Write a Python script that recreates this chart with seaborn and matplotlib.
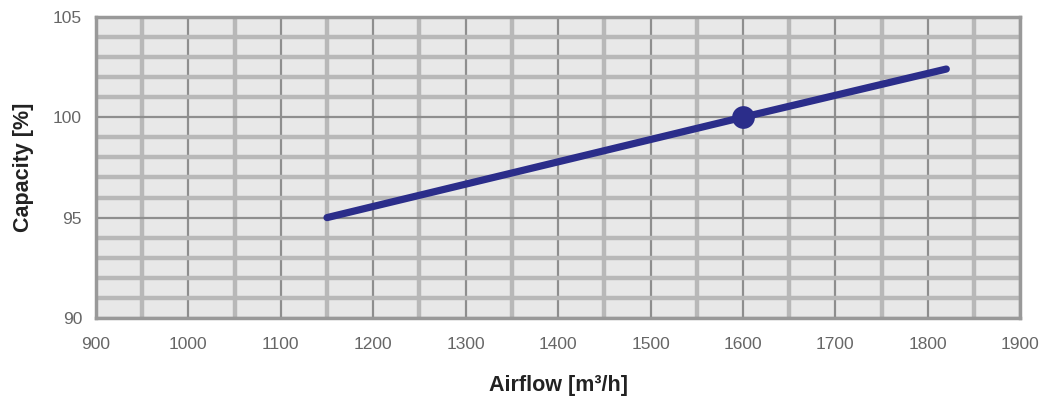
import matplotlib
matplotlib.use("Agg")
import matplotlib.pyplot as plt
import seaborn as sns
import pandas as pd
from matplotlib.ticker import MultipleLocator

# curve values
airflow = [1150, 1600, 1820]
capacity = [95.0, 100.0, 102.4]
# nominal operating point
nominal_airflow = [1600]
nominal_capacity = [100.0]

x_ticks = [900, 1000, 1100, 1200, 1300, 1400, 1500, 1600, 1700, 1800, 1900]
y_ticks = [90, 95, 100, 105]

sns.set_theme(style="white")
plt.rcParams['font.family'] = ['Liberation Sans', 'DejaVu Sans']

df = pd.DataFrame({'airflow': airflow, 'capacity': capacity})
pt = pd.DataFrame({'airflow': nominal_airflow, 'capacity': nominal_capacity})

fig = plt.figure(figsize=(10.42, 4.01), dpi=100)
ax = fig.add_axes([0.0921, 0.207, 0.887, 0.751])
ax.set_facecolor('#e8e8e8')

line_col = '#2b2d8a'
sns.lineplot(data=df, x='airflow', y='capacity', color=line_col, lw=5.2,
             solid_capstyle='round', ax=ax, zorder=5)
sns.scatterplot(data=pt, x='airflow', y='capacity', color=line_col, s=230,
                edgecolor=line_col, ax=ax, zorder=6)

ax.set_xlim(900, 1900)
ax.set_ylim(90, 105)
ax.set_xticks(x_ticks)
ax.set_yticks(y_ticks)
ax.xaxis.set_minor_locator(MultipleLocator(50))
ax.yaxis.set_minor_locator(MultipleLocator(1))

ax.grid(which='minor', color='#b8b8b8', lw=3.2, zorder=0)
ax.grid(which='major', color='#8e8e8e', lw=1.6, zorder=1)
ax.set_axisbelow(True)

ax.tick_params(which='both', length=0)
ax.tick_params(axis='x', labelsize=12.5, labelcolor='#666666', pad=14)
ax.tick_params(axis='y', labelsize=12.5, labelcolor='#666666', pad=10)

for s in ax.spines.values():
    s.set_color('#999999')
    s.set_linewidth(2.5)

ax.set_xlabel('Airflow [m\u00b3/h]', fontsize=15.5, fontweight='bold', color='#222222', labelpad=16)
ax.set_ylabel('Capacity [%]', fontsize=15.5, fontweight='bold', color='#222222', labelpad=14)

fig.savefig('out.png', dpi=100)
